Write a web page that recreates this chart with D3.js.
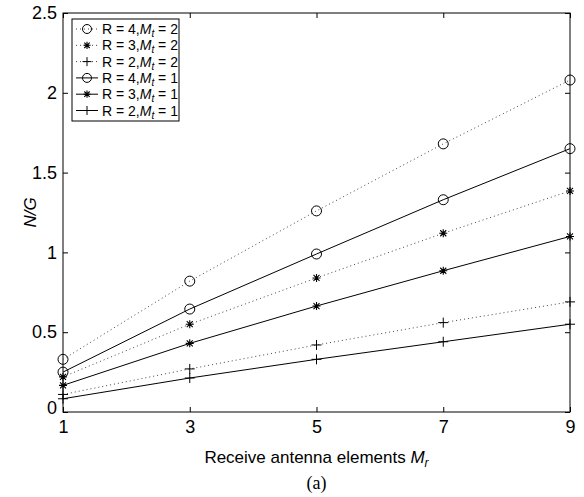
<!DOCTYPE html>
<html>
<head>
<meta charset="utf-8">
<script src="https://cdn.jsdelivr.net/npm/d3@7"></script>
<style>
  body { margin: 0; background: #fff; }
  text { font-family: "Liberation Sans", Arial, sans-serif; }
</style>
</head>
<body>
<svg id="chart" width="584" height="497"></svg>
<script>
// data
const mr = [1, 3, 5, 7, 9];
const r4mt2 = [0.33, 0.82, 1.26, 1.68, 2.08];
const r3mt2 = [0.22, 0.55, 0.84, 1.12, 1.385];
const r2mt2 = [0.11, 0.27, 0.42, 0.56, 0.69];
const r4mt1 = [0.25, 0.645, 0.99, 1.33, 1.65];
const r3mt1 = [0.167, 0.43, 0.664, 0.885, 1.10];
const r2mt1 = [0.083, 0.213, 0.33, 0.44, 0.55];
const xTicks = [1, 3, 5, 7, 9];
const yTicks = [0, 0.5, 1, 1.5, 2, 2.5];

const series = [
    { r: 4, mt: 2, values: r4mt2, marker: 'circle', dotted: true },
    { r: 3, mt: 2, values: r3mt2, marker: 'star', dotted: true },
    { r: 2, mt: 2, values: r2mt2, marker: 'plus', dotted: true },
    { r: 4, mt: 1, values: r4mt1, marker: 'circle', dotted: false },
    { r: 3, mt: 1, values: r3mt1, marker: 'star', dotted: false },
    { r: 2, mt: 1, values: r2mt1, marker: 'plus', dotted: false }
];

const svg = d3.select('#chart');
const pLeft = 63, pRight = 570, pTop = 13, pBottom = 412;

const x = d3.scaleLinear().domain([1, 9]).range([pLeft, pRight]);
const y = d3.scaleLinear().domain([0, 2.5]).range([pBottom, pTop]);

// box
svg.append('rect')
    .attr('x', pLeft).attr('y', pTop)
    .attr('width', pRight - pLeft).attr('height', pBottom - pTop)
    .attr('fill', 'none').attr('stroke', '#000').attr('stroke-width', 1);

// ticks, inward, both sides
const tickLen = 5;
const xAxisB = d3.axisBottom(x).tickValues(xTicks).tickSize(-tickLen).tickPadding(8).tickFormat(d3.format('d'));
const xAxisT = d3.axisTop(x).tickValues(xTicks).tickSize(-tickLen).tickFormat('');
const yAxisL = d3.axisLeft(y).tickValues(yTicks).tickSize(-tickLen).tickPadding(6).tickFormat(d => d);
const yAxisR = d3.axisRight(y).tickValues(yTicks).tickSize(-tickLen).tickFormat('');

function styleAxis(g) {
    g.select('.domain').remove();
    g.selectAll('line').attr('stroke', '#000');
    g.selectAll('text').attr('font-size', 18).attr('fill', '#000')
        .style('font-family', '"Liberation Sans", Arial, sans-serif');
}

svg.append('g').attr('transform', `translate(0,${pBottom})`).call(xAxisB).call(styleAxis);
svg.append('g').attr('transform', `translate(0,${pTop})`).call(xAxisT).call(styleAxis);
svg.append('g').attr('class', 'yl').attr('transform', `translate(${pLeft},0)`).call(yAxisL).call(styleAxis);
svg.append('g').attr('transform', `translate(${pRight},0)`).call(yAxisR).call(styleAxis);

// MATLAB puts the 0 a bit higher
svg.selectAll('.yl text').filter(function() { return this.textContent === '0'; })
    .attr('dy', '0.1em');

// lines
const line = d3.line().x((d, i) => x(mr[i])).y(d => y(d));

function drawMarker(g, type, cx, cy, sz) {
    sz = sz || 5;
    if (type === 'circle') {
        g.append('circle').attr('cx', cx).attr('cy', cy).attr('r', sz)
            .attr('fill', 'none').attr('stroke', '#000').attr('stroke-width', 1);
    } else if (type === 'plus') {
        g.append('path').attr('d', `M${cx - sz},${cy}H${cx + sz}M${cx},${cy - sz}V${cy + sz}`)
            .attr('stroke', '#000').attr('stroke-width', 1);
    } else {
        const s = sz * 0.8, d = sz * 0.6;
        g.append('path')
            .attr('d', `M${cx - s},${cy}H${cx + s}M${cx},${cy - s}V${cy + s}` +
                       `M${cx - d},${cy - d}L${cx + d},${cy + d}M${cx - d},${cy + d}L${cx + d},${cy - d}`)
            .attr('stroke', '#000').attr('stroke-width', 1.1);
    }
}

const plot = svg.append('g');
series.forEach(s => {
    plot.append('path')
        .attr('d', line(s.values))
        .attr('fill', 'none')
        .attr('stroke', s.dotted ? '#444' : '#000')
        .attr('stroke-width', 1)
        .attr('stroke-dasharray', s.dotted ? '1,3' : null);
    s.values.forEach((v, i) => drawMarker(plot, s.marker, x(mr[i]), y(v)));
});

// legend
const lg = svg.append('g');
lg.append('rect').attr('x', 72).attr('y', 19).attr('width', 107).attr('height', 102)
    .attr('fill', '#fff').attr('stroke', '#000').attr('stroke-width', 1);
series.forEach((s, i) => {
    const ly = 29 + i * 16.3;
    lg.append('line').attr('x1', 76).attr('x2', 98).attr('y1', ly).attr('y2', ly)
        .attr('stroke', s.dotted ? '#444' : '#000').attr('stroke-width', 1)
        .attr('stroke-dasharray', s.dotted ? '1,3' : null);
    drawMarker(lg, s.marker, 87, ly, 4.5);
    const t = lg.append('text').attr('x', 102).attr('y', ly + 5).attr('font-size', 14);
    t.append('tspan').text(`R = ${s.r},`);
    t.append('tspan').attr('font-style', 'italic').text('M');
    t.append('tspan').attr('font-style', 'italic').attr('font-size', 10).attr('dy', 3).text('t');
    t.append('tspan').attr('dy', -3).text(` = ${s.mt}`);
});

// axis labels
const xl = svg.append('text').attr('x', (pLeft + pRight) / 2).attr('y', 463)
    .attr('text-anchor', 'middle').attr('font-size', 17);
xl.append('tspan').text('Receive antenna elements ');
xl.append('tspan').attr('font-style', 'italic').text('M');
xl.append('tspan').attr('font-style', 'italic').attr('font-size', 12).attr('dy', 4).text('r');

svg.append('text').attr('transform', `translate(36,${(pTop + pBottom) / 2}) rotate(-90)`)
    .attr('text-anchor', 'middle').attr('font-size', 17).attr('font-style', 'italic')
    .text('N/G');

svg.append('text').attr('x', (pLeft + pRight) / 2).attr('y', 489)
    .attr('text-anchor', 'middle').attr('font-size', 18)
    .style('font-family', '"Liberation Serif", "Times New Roman", serif')
    .text('(a)');
</script>
</body>
</html>
